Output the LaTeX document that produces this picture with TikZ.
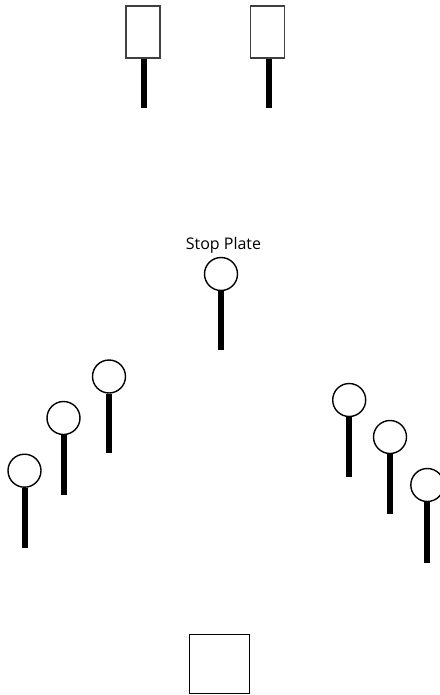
\documentclass[tikz,border=0pt]{standalone}
\usepackage{fontspec}
\setmainfont{Open Sans}
\begin{document}
\begin{tikzpicture}[x=1pt,y=-1pt,
  plate/.style={draw=black,line width=1.4pt,circle,fill=white,minimum size=33pt,inner sep=0pt},
  sign/.style={draw=black!75,line width=1.4pt,rectangle,fill=white,minimum width=34pt,minimum height=52pt,inner sep=0pt},
  box/.style={draw=black,line width=1.4pt,rectangle,minimum width=60pt,minimum height=59pt,inner sep=0pt},
  post/.style={line width=6pt,line cap=butt}]
\useasboundingbox (0,0) rectangle (439,695);
% top signs
\node[sign] (s1) at (143,32) {};
\node[sign] (s2) at (267.5,32) {};
\coordinate (s1b) at (143.7,108);
\coordinate (s2b) at (268.5,108);
\draw[post] (s1.south -| s1b) -- (s1b);
\draw[post] (s2.south -| s2b) -- (s2b);
% stop plate
\node[font=\fontsize{16}{18}\selectfont,anchor=base,inner sep=0pt] (lbl) at (223.5,249) {Stop Plate};
\node[plate] (p0) at (221,274) {};
\coordinate (p0b) at (221,349.5);
% left plates
\node[plate] (l3) at (109,376.5) {};
\coordinate (l3b) at (109,453);
\node[plate] (l2) at (63.5,418) {};
\coordinate (l2b) at (63.5,495);
\node[plate] (l1) at (24.5,470.7) {};
\coordinate (l1b) at (24.5,547.5);
% right plates
\node[plate] (r1) at (349.2,400) {};
\coordinate (r1b) at (349.2,477);
\node[plate] (r2) at (390,437) {};
\coordinate (r2b) at (390,513.5);
\node[plate] (r3) at (427.3,485) {};
\coordinate (r3b) at (427.3,562.5);
\foreach \p in {p0,l1,l2,l3,r1,r2,r3}
  \draw[post] (\p.south) -- (\p b);
% bottom box
\node[box] (start) at (219.2,663.8) {};
\end{tikzpicture}
\end{document}
